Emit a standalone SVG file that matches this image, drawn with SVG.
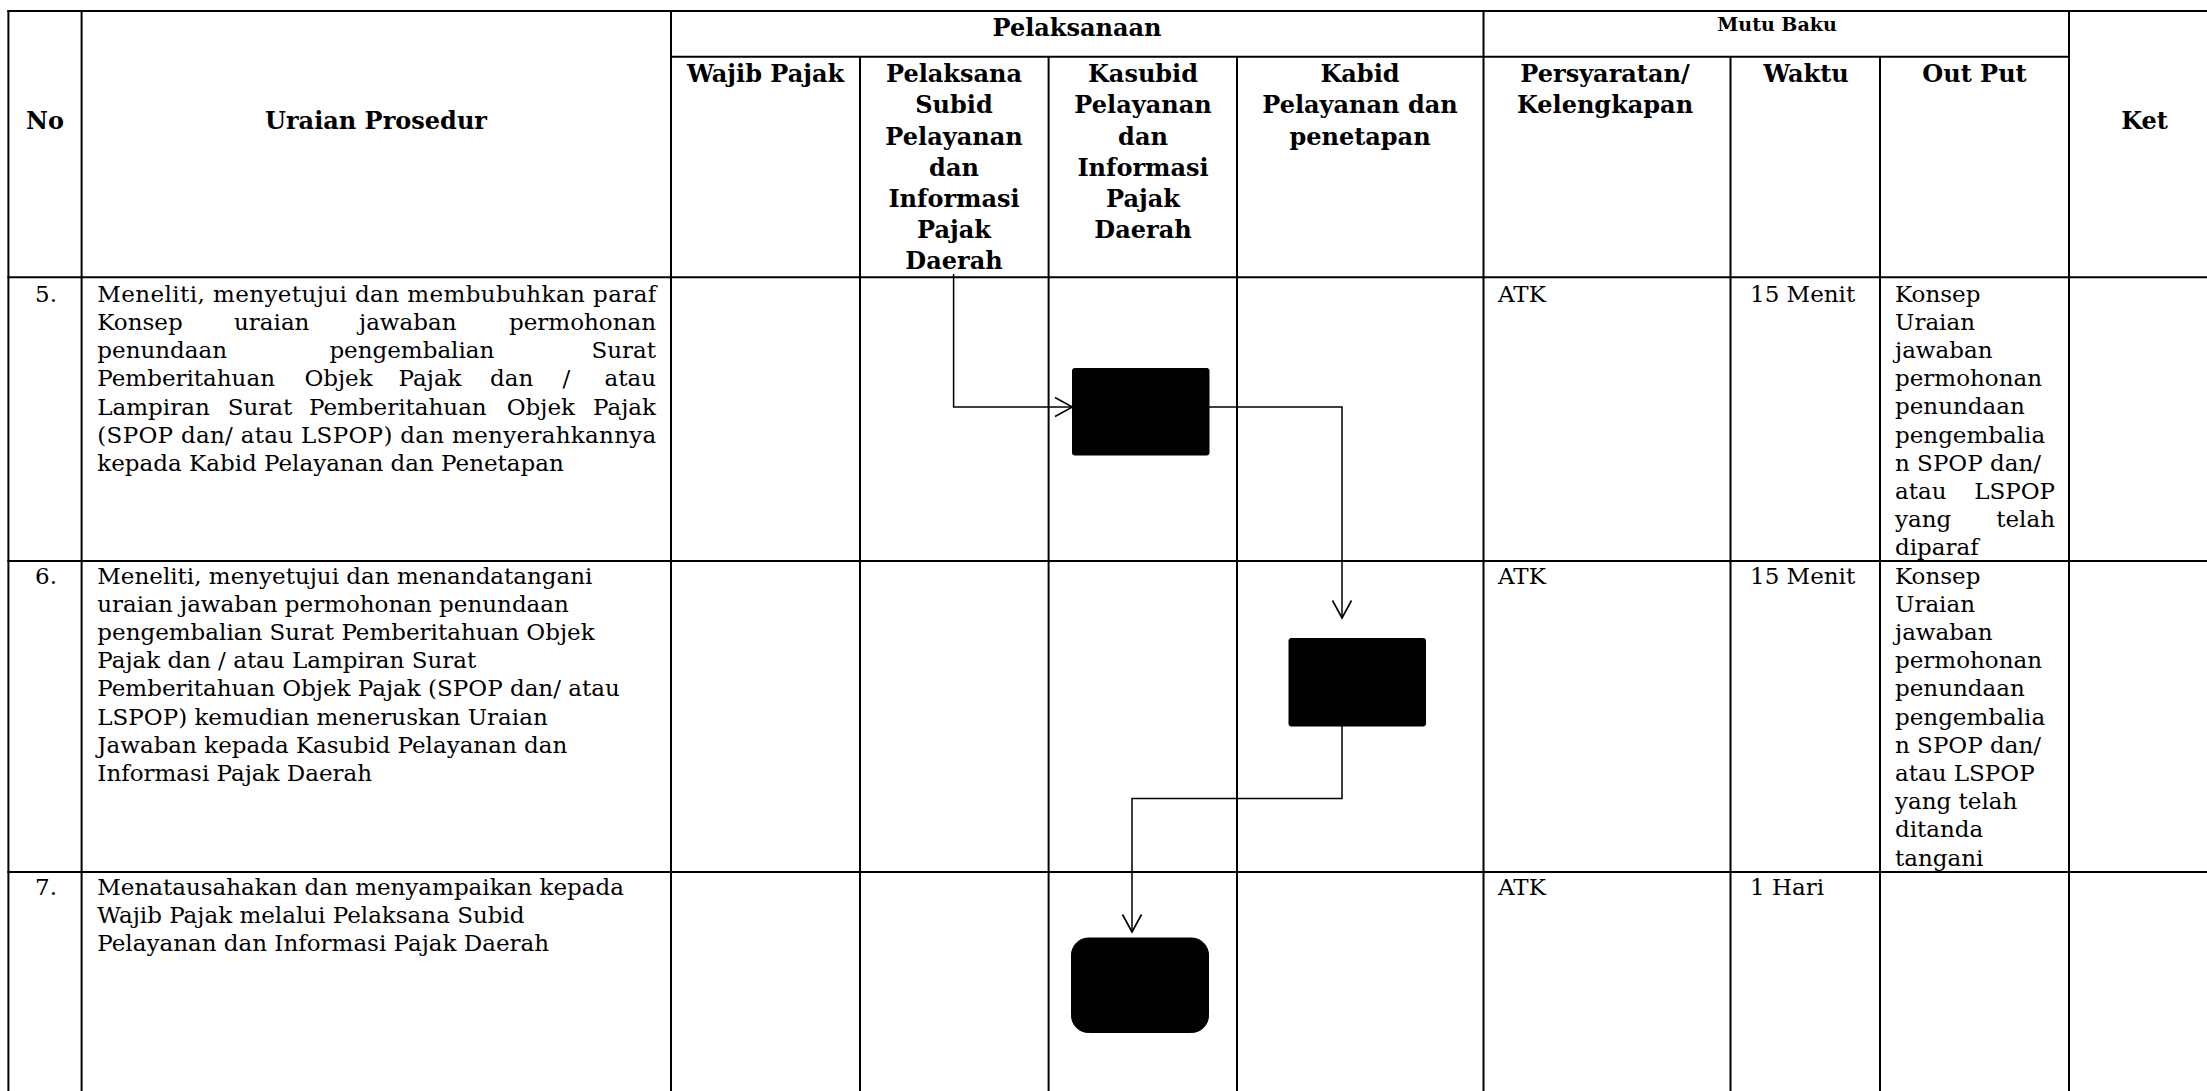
<svg xmlns="http://www.w3.org/2000/svg" width="2207" height="1091" viewBox="0 0 2207 1091">
<defs>
<marker id="arrow" markerUnits="userSpaceOnUse" viewBox="0 0 20 22" refX="18.5" refY="11" markerWidth="20" markerHeight="22" orient="auto">
<path d="M1,1.5 L18.5,11 L1,20.5" fill="none" stroke="#000" stroke-width="1.6"/>
</marker>
<style>
.g line { stroke:#000; stroke-width:2; }
.h { font-family:"DejaVu Serif", serif; font-weight:bold; font-size:24px; text-anchor:middle; fill:#000; }
.t { font-family:"DejaVu Serif", serif; font-size:23px; fill:#000; }
.e { text-anchor:end; }
.c { text-anchor:middle; }
.conn path { fill:none; stroke:#000; stroke-width:1.5; marker-end:url(#arrow); }
.node { fill:#000; stroke:#000; stroke-width:1; }
</style>
</defs>
<rect width="2207" height="1091" fill="#fff"/>

<g id="table" class="g">
<line x1="7.4" y1="11" x2="2207" y2="11"/>
<line x1="671" y1="56.7" x2="2069" y2="56.7"/>
<line x1="7.4" y1="277.3" x2="2207" y2="277.3"/>
<line x1="7.4" y1="561" x2="2207" y2="561"/>
<line x1="7.4" y1="872" x2="2207" y2="872"/>
<line x1="8.4" y1="10" x2="8.4" y2="1091"/>
<line x1="81.6" y1="10" x2="81.6" y2="1091"/>
<line x1="671" y1="10" x2="671" y2="1091"/>
<line x1="1483.5" y1="10" x2="1483.5" y2="1091"/>
<line x1="2069" y1="10" x2="2069" y2="1091"/>
<line x1="860" y1="56.7" x2="860" y2="1091"/>
<line x1="1048.6" y1="56.7" x2="1048.6" y2="1091"/>
<line x1="1237" y1="56.7" x2="1237" y2="1091"/>
<line x1="1730.5" y1="56.7" x2="1730.5" y2="1091"/>
<line x1="1880" y1="56.7" x2="1880" y2="1091"/>
</g>

<g id="header">
<text class="h" x="45" y="129">No</text>
<text class="h" x="376" y="129">Uraian Prosedur</text>
<text class="h" x="1077" y="36">Pelaksanaan</text>
<text class="h" x="1777" y="31" style="font-size:19px">Mutu Baku</text>
<text class="h" x="765.5" y="82">Wajib Pajak</text>
<text class="h"><tspan x="954" y="82">Pelaksana</tspan><tspan x="954" y="113">Subid</tspan><tspan x="954" y="145">Pelayanan</tspan><tspan x="954" y="176">dan</tspan><tspan x="954" y="207">Informasi</tspan><tspan x="954" y="238">Pajak</tspan><tspan x="954" y="269">Daerah</tspan></text>
<text class="h"><tspan x="1143" y="82">Kasubid</tspan><tspan x="1143" y="113">Pelayanan</tspan><tspan x="1143" y="145">dan</tspan><tspan x="1143" y="176">Informasi</tspan><tspan x="1143" y="207">Pajak</tspan><tspan x="1143" y="238">Daerah</tspan></text>
<text class="h"><tspan x="1360" y="82">Kabid</tspan><tspan x="1360" y="113">Pelayanan dan</tspan><tspan x="1360" y="145">penetapan</tspan></text>
<text class="h"><tspan x="1605" y="82">Persyaratan/</tspan><tspan x="1605" y="113">Kelengkapan</tspan></text>
<text class="h" x="1806" y="82">Waktu</text>
<text class="h" x="1974.5" y="82">Out Put</text>
<text class="h" x="2144.5" y="129">Ket</text>
</g>

<g id="row5">
<text class="t c" x="46" y="301.5">5.</text>
<text class="t" x="97.3" y="301.5" textLength="559" lengthAdjust="spacing">Meneliti, menyetujui dan membubuhkan paraf</text>
<text class="t" y="329.8"><tspan x="97.3">Konsep</tspan><tspan x="234">uraian</tspan><tspan x="359">jawaban</tspan></text>
<text class="t e" x="656" y="329.8">permohonan</text>
<text class="t" y="358.1"><tspan x="97.3">penundaan</tspan><tspan x="329.4">pengembalian</tspan></text>
<text class="t e" x="656" y="358.1">Surat</text>
<text class="t" y="386.4"><tspan x="97.3">Pemberitahuan</tspan><tspan x="304.4">Objek</tspan><tspan x="398.6">Pajak</tspan><tspan x="490">dan</tspan><tspan x="562.5">/</tspan></text>
<text class="t e" x="656" y="386.4">atau</text>
<text class="t" y="414.7"><tspan x="97.3">Lampiran</tspan><tspan x="227.7">Surat</tspan><tspan x="309">Pemberitahuan</tspan><tspan x="506.7">Objek</tspan></text>
<text class="t e" x="656" y="414.7">Pajak</text>
<text class="t" x="97.3" y="443" textLength="559" lengthAdjust="spacing">(SPOP dan/ atau LSPOP) dan menyerahkannya</text>
<text class="t" x="97.3" y="471.3">kepada Kabid Pelayanan dan Penetapan</text>
<text class="t" x="1498" y="301.5">ATK</text>
<text class="t" x="1750" y="301.5">15 Menit</text>
<text class="t"><tspan x="1895" y="301.5">Konsep</tspan><tspan x="1895" y="329.7">Uraian</tspan><tspan x="1895" y="357.9">jawaban</tspan><tspan x="1895" y="386.1">permohonan</tspan><tspan x="1895" y="414.3">penundaan</tspan><tspan x="1895" y="442.5">pengembalia</tspan><tspan x="1895" y="470.7">n SPOP dan/</tspan><tspan x="1895" y="498.9">atau</tspan><tspan x="1895" y="527.1">yang</tspan><tspan x="1895" y="555.3">diparaf</tspan></text>
<text class="t e" x="2055" y="498.9">LSPOP</text>
<text class="t e" x="2055" y="527.1">telah</text>
</g>

<g id="row6">
<text class="t c" x="46" y="583.5">6.</text>
<text class="t"><tspan x="97.3" y="583.5">Meneliti, menyetujui dan menandatangani</tspan><tspan x="97.3" y="611.7">uraian jawaban permohonan penundaan</tspan><tspan x="97.3" y="639.9">pengembalian Surat Pemberitahuan Objek</tspan><tspan x="97.3" y="668.1">Pajak dan / atau Lampiran Surat</tspan><tspan x="97.3" y="696.3">Pemberitahuan Objek Pajak (SPOP dan/ atau</tspan><tspan x="97.3" y="724.5">LSPOP) kemudian meneruskan Uraian</tspan><tspan x="97.3" y="752.7">Jawaban kepada Kasubid Pelayanan dan</tspan><tspan x="97.3" y="780.9">Informasi Pajak Daerah</tspan></text>
<text class="t" x="1498" y="583.5">ATK</text>
<text class="t" x="1750" y="583.5">15 Menit</text>
<text class="t"><tspan x="1895" y="583.5">Konsep</tspan><tspan x="1895" y="611.7">Uraian</tspan><tspan x="1895" y="639.9">jawaban</tspan><tspan x="1895" y="668.1">permohonan</tspan><tspan x="1895" y="696.3">penundaan</tspan><tspan x="1895" y="724.5">pengembalia</tspan><tspan x="1895" y="752.7">n SPOP dan/</tspan><tspan x="1895" y="780.9">atau LSPOP</tspan><tspan x="1895" y="809.1">yang telah</tspan><tspan x="1895" y="837.3">ditanda</tspan><tspan x="1895" y="865.5">tangani</tspan></text>
</g>

<g id="row7">
<text class="t c" x="46" y="895">7.</text>
<text class="t"><tspan x="97.3" y="895">Menatausahakan dan menyampaikan kepada</tspan><tspan x="97.3" y="923.2">Wajib Pajak melalui Pelaksana Subid</tspan><tspan x="97.3" y="951.4">Pelayanan dan Informasi Pajak Daerah</tspan></text>
<text class="t" x="1498" y="895">ATK</text>
<text class="t" x="1750" y="895">1 Hari</text>
</g>

<g id="connectors" class="conn">
<path d="M953.6,274 V407 H1072.5"/>
<path d="M1209,407 H1342 V618"/>
<path d="M1342,726 V798.5 H1132 V932"/>
</g>

<g id="node-step5"><rect class="node" x="1072.5" y="368.5" width="136.5" height="86.5" rx="2"/></g>
<g id="node-step6"><rect class="node" x="1289" y="638.5" width="136.5" height="87.5" rx="2"/></g>
<g id="node-step7"><rect class="node" x="1071.5" y="938" width="137" height="94.5" rx="17"/></g>
</svg>
